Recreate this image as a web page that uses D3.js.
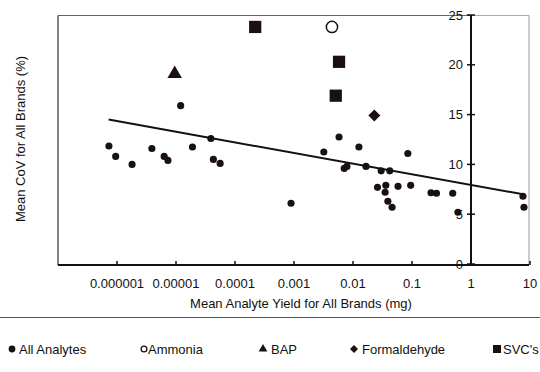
<!DOCTYPE html>
<html>
<head>
<meta charset="utf-8">
<script src="https://cdn.jsdelivr.net/npm/d3@7"></script>
<style>
  html, body { margin: 0; padding: 0; background: #fff; overflow: hidden; }
  svg { display: block; font-family: "Liberation Sans", Arial, Helvetica, sans-serif; }
</style>
</head>
<body>
<div id="chart"></div>
<script>
// ── Data ──────────────────────────────────────────────────────
const allX = [7.3e-7, 9.5e-7, 1.8e-6, 3.9e-6, 6.3e-6, 7.3e-6, 1.2e-5, 1.9e-5, 3.9e-5, 4.3e-5, 5.6e-5,
              8.9e-4, 3.2e-3, 5.8e-3, 7.1e-3, 7.9e-3, 0.0126, 0.0166, 0.026, 0.030, 0.035, 0.036,
              0.039, 0.042, 0.046, 0.058, 0.085, 0.095, 0.21, 0.26, 0.49, 0.6, 7.6, 7.9];
const allY = [11.85, 10.8, 10.0, 11.6, 10.8, 10.4, 15.9, 11.75, 12.6, 10.5, 10.1,
              6.1, 11.25, 12.75, 9.6, 9.8, 11.75, 9.8, 7.7, 9.35, 7.2, 7.9,
              6.3, 9.35, 5.7, 7.8, 11.1, 7.9, 7.15, 7.1, 7.1, 5.2, 6.8, 5.7];

const ammoniaX = [4.4e-3];
const ammoniaY = [23.8];

const bapX = [9.5e-6];
const bapY = [19.1];

const formX = [0.023];
const formY = [14.9];

const svcX = [2.2e-4, 5.8e-3, 5.1e-3];
const svcY = [23.8, 20.3, 16.9];

// trend line end points (straight on log-x)
const trendX = [7.2e-7, 7.6];
const trendY = [14.5, 7.0];

const xTicks = [1e-6, 1e-5, 1e-4, 1e-3, 1e-2, 0.1, 1, 10];
const xTickLabels = ['0.000001', '0.00001', '0.0001', '0.001', '0.01', '0.1', '1', '10'];
const yTicks = [0, 5, 10, 15, 20, 25];

const legendLabels = ['All Analytes', 'Ammonia', 'BAP', 'Formaldehyde', "SVC's"];

// ── Layout ────────────────────────────────────────────────────
const W = 540, H = 372;
const plotLeft = 58, plotRight = 529, plotTop = 15.5, plotBottom = 265;
const INK = '#1a1010';

const svg = d3.select('#chart').append('svg')
  .attr('width', W).attr('height', H);

const x = d3.scaleLog().domain([1e-7, 10]).range([plotLeft, 530]);
const y = d3.scaleLinear().domain([0, 25]).range([264, 15]);

// ── Frame ─────────────────────────────────────────────────────
svg.append('line').attr('x1', plotLeft).attr('x2', x(1)).attr('y1', plotTop).attr('y2', plotTop)
  .attr('stroke', '#666').attr('stroke-width', 1);
svg.append('line').attr('x1', x(1)).attr('x2', plotRight).attr('y1', plotTop).attr('y2', plotTop)
  .attr('stroke', '#aaa').attr('stroke-width', 1);
svg.append('line').attr('x1', plotLeft).attr('x2', plotLeft).attr('y1', plotTop).attr('y2', plotBottom)
  .attr('stroke', '#333').attr('stroke-width', 1.2);
svg.append('line').attr('x1', plotRight).attr('x2', plotRight).attr('y1', plotTop).attr('y2', plotBottom)
  .attr('stroke', '#999').attr('stroke-width', 1);

// ── X axis (bottom, ticks pointing up) ───────────────────────
const xAxis = svg.append('g').attr('transform', `translate(0,${plotBottom})`);
xAxis.append('line').attr('x1', plotLeft).attr('x2', plotRight)
  .attr('stroke', '#111').attr('stroke-width', 2);
xAxis.selectAll('line.tick').data(xTicks).join('line').attr('class', 'tick')
  .attr('x1', d => x(d)).attr('x2', d => x(d)).attr('y1', 0).attr('y2', -4)
  .attr('stroke', '#111').attr('stroke-width', 1.5);
xAxis.selectAll('text').data(xTicks).join('text')
  .attr('x', d => x(d)).attr('y', 22.5)
  .attr('text-anchor', 'middle').attr('font-size', 13).attr('fill', '#111')
  .text((d, i) => xTickLabels[i]);

// ── Y axis (at x = 1, cross ticks) ───────────────────────────
const yAxisX = x(1);
const yAxis = svg.append('g').attr('transform', `translate(${yAxisX},0)`);
yAxis.append('line').attr('y1', y(25)).attr('y2', plotBottom)
  .attr('stroke', '#111').attr('stroke-width', 2);
yAxis.selectAll('line.tick').data(yTicks).join('line').attr('class', 'tick')
  .attr('x1', -4).attr('x2', 4).attr('y1', d => y(d)).attr('y2', d => y(d))
  .attr('stroke', '#111').attr('stroke-width', 1.5);
yAxis.selectAll('text').data(yTicks).join('text')
  .attr('x', -8).attr('y', d => y(d) + 4.5)
  .attr('text-anchor', 'end').attr('font-size', 13).attr('fill', '#111')
  .text(d => d);

// ── Axis titles ──────────────────────────────────────────────
svg.append('text')
  .attr('x', 301).attr('y', 307.5)
  .attr('text-anchor', 'middle').attr('font-size', 13).attr('fill', '#111')
  .text('Mean Analyte Yield for All Brands (mg)');
svg.append('text')
  .attr('transform', `translate(25,139) rotate(-90)`)
  .attr('text-anchor', 'middle').attr('font-size', 13).attr('fill', '#111')
  .text('Mean CoV for All Brands (%)');

// ── Trend line ───────────────────────────────────────────────
svg.append('path')
  .datum(trendX.map((d, i) => [d, trendY[i]]))
  .attr('d', d3.line().x(d => x(d[0])).y(d => y(d[1])))
  .attr('fill', 'none').attr('stroke', '#111').attr('stroke-width', 2);

// ── Markers ──────────────────────────────────────────────────
function plot(xs, ys, type, size, opts = {}) {
  svg.append('g').selectAll('path')
    .data(xs.map((d, i) => [d, ys[i]]))
    .join('path')
    .attr('transform', d => `translate(${x(d[0])},${y(d[1])})${opts.rotate ? ' rotate(45)' : ''}`)
    .attr('d', d3.symbol().type(type).size(size))
    .attr('fill', opts.fill || INK)
    .attr('stroke', opts.stroke || 'none')
    .attr('stroke-width', opts.strokeWidth || 0);
}

plot(allX, allY, d3.symbolCircle, 40);
plot(svcX, svcY, d3.symbolSquare, 150);
plot(bapX, bapY, d3.symbolTriangle, 90);
plot(formX, formY, d3.symbolSquare, 72, { rotate: true });
plot(ammoniaX, ammoniaY, d3.symbolCircle, 100, { fill: '#fff', stroke: INK, strokeWidth: 1.5 });

// ── Separator + legend ───────────────────────────────────────
svg.append('line').attr('x1', 0).attr('x2', W).attr('y1', 317.5).attr('y2', 317.5)
  .attr('stroke', '#555').attr('stroke-width', 1.2);

const legendMarkX = [12, 144, 263, 354, 497];
const legendTextX = [19, 148, 271, 362, 503];
const legendSym = [
  { type: d3.symbolCircle, size: 36 },
  { type: d3.symbolCircle, size: 26, fill: '#fff', stroke: INK, strokeWidth: 1.3 },
  { type: d3.symbolTriangle, size: 32 },
  { type: d3.symbolSquare, size: 32, rotate: true },
  { type: d3.symbolSquare, size: 64 },
];
const legendY = 349;
const lg = svg.append('g');
legendLabels.forEach((label, i) => {
  const s = legendSym[i];
  lg.append('path')
    .attr('transform', `translate(${legendMarkX[i]},${legendY})${s.rotate ? ' rotate(45)' : ''}`)
    .attr('d', d3.symbol().type(s.type).size(s.size))
    .attr('fill', s.fill || INK)
    .attr('stroke', s.stroke || 'none')
    .attr('stroke-width', s.strokeWidth || 0);
  lg.append('text')
    .attr('x', legendTextX[i]).attr('y', legendY + 4.5)
    .attr('font-size', 13).attr('fill', '#111')
    .text(label);
});
</script>
</body>
</html>
